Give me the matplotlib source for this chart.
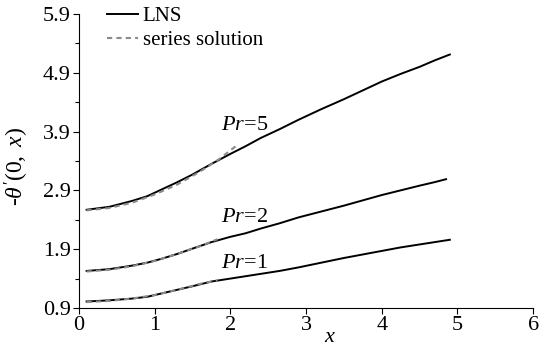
import matplotlib
matplotlib.use('Agg')
import matplotlib.pyplot as plt

plt.rcParams['font.family'] = ['Liberation Serif', 'DejaVu Serif']
plt.rcParams['mathtext.fontset'] = 'custom'
plt.rcParams['mathtext.rm'] = 'Liberation Serif'
plt.rcParams['mathtext.it'] = 'Liberation Serif:italic'

# LNS solution, values
x_lns = [0.1, 0.4, 0.7, 0.9, 1.1, 1.3, 1.5, 1.75, 2.0, 2.2, 2.4, 2.65, 2.9,
         3.2, 3.5, 3.75, 4.0, 4.25, 4.5, 4.7, 4.9]
lns_pr5 = [2.57, 2.62, 2.72, 2.80, 2.92, 3.04, 3.17, 3.35, 3.52, 3.65, 3.79,
           3.94, 4.10, 4.28, 4.45, 4.60, 4.75, 4.88, 5.00, 5.11, 5.21]
x_lns2 = [0.1, 0.4, 0.7, 0.9, 1.1, 1.3, 1.5, 1.75, 2.0, 2.2, 2.4, 2.65, 2.9,
          3.2, 3.5, 3.75, 4.0, 4.25, 4.5, 4.7, 4.85]
lns_pr2 = [1.53, 1.56, 1.62, 1.67, 1.74, 1.82, 1.91, 2.02, 2.11, 2.17, 2.25,
           2.34, 2.44, 2.54, 2.64, 2.73, 2.82, 2.90, 2.98, 3.04, 3.09]
lns_pr1 = [1.01, 1.03, 1.06, 1.09, 1.15, 1.21, 1.27, 1.35, 1.40, 1.44, 1.48,
           1.53, 1.59, 1.67, 1.75, 1.81, 1.87, 1.93, 1.98, 2.02, 2.06]

# series solution (valid only for small x)
x_ser5 = [0.1, 0.4, 0.7, 1.0, 1.3, 1.6, 1.85, 2.1]
ser_pr5 = [2.56, 2.60, 2.69, 2.83, 3.00, 3.22, 3.43, 3.68]
x_ser = [0.1, 0.4, 0.7, 1.0, 1.3, 1.6, 1.83]
ser_pr2 = [1.52, 1.55, 1.61, 1.70, 1.82, 1.95, 2.07]
ser_pr1 = [1.00, 1.02, 1.06, 1.12, 1.21, 1.31, 1.37]

pr_labels = [r'$Pr\!=\!5$', r'$Pr\!=\!2$', r'$Pr\!=\!1$']
label_xy = [(1.87, 3.93), (1.87, 2.37), (1.87, 1.575)]

fig = plt.figure(figsize=(5.49, 3.48), dpi=100)
ax = fig.add_axes([0.144, 0.115, 0.827, 0.845])

dash = (0, (2.5, 2))
ax.plot(x_lns, lns_pr5, color='black', lw=1.4, label='LNS')
ax.plot(x_lns2, lns_pr2, color='black', lw=1.4)
ax.plot(x_lns, lns_pr1, color='black', lw=1.4)
ax.plot(x_ser5, ser_pr5, color='#8a8a8a', lw=1.5, ls=dash, label='series solution')
ax.plot(x_ser, ser_pr2, color='#8a8a8a', lw=1.5, ls=dash)
ax.plot(x_ser, ser_pr1, color='#8a8a8a', lw=1.5, ls=dash)

for lab, (tx, ty) in zip(pr_labels, label_xy):
    ax.text(tx, ty, lab, fontsize=16, ha='left', va='baseline')

ax.set_xlim(0, 6)
ax.set_ylim(0.9, 5.9)
ax.set_xticks(range(0, 7))
ax.set_yticks([0.9, 1.9, 2.9, 3.9, 4.9, 5.9])
ax.set_yticks([1.4, 2.4, 3.4, 4.4, 5.4], minor=True)
ax.tick_params(labelsize=16, length=4, width=0.8, pad=2)
ax.tick_params(which='minor', length=3, width=0.8)
for s in ['top', 'right']:
    ax.spines[s].set_visible(False)

ax.set_xlabel(r'$x$', fontsize=16)
ax.xaxis.set_label_coords(0.553, -0.068)
ax.set_ylabel('-' + r"$\theta^{\prime}(0,\ x)$", fontsize=17)
ax.yaxis.set_label_coords(-0.106, 0.48)

ax.legend(loc='upper left', bbox_to_anchor=(0.062, 1.025), frameon=False,
          fontsize=15, handlelength=1.5, handletextpad=0.2, labelspacing=0.2,
          borderpad=0, borderaxespad=0)

fig.savefig('out.png', dpi=100)
